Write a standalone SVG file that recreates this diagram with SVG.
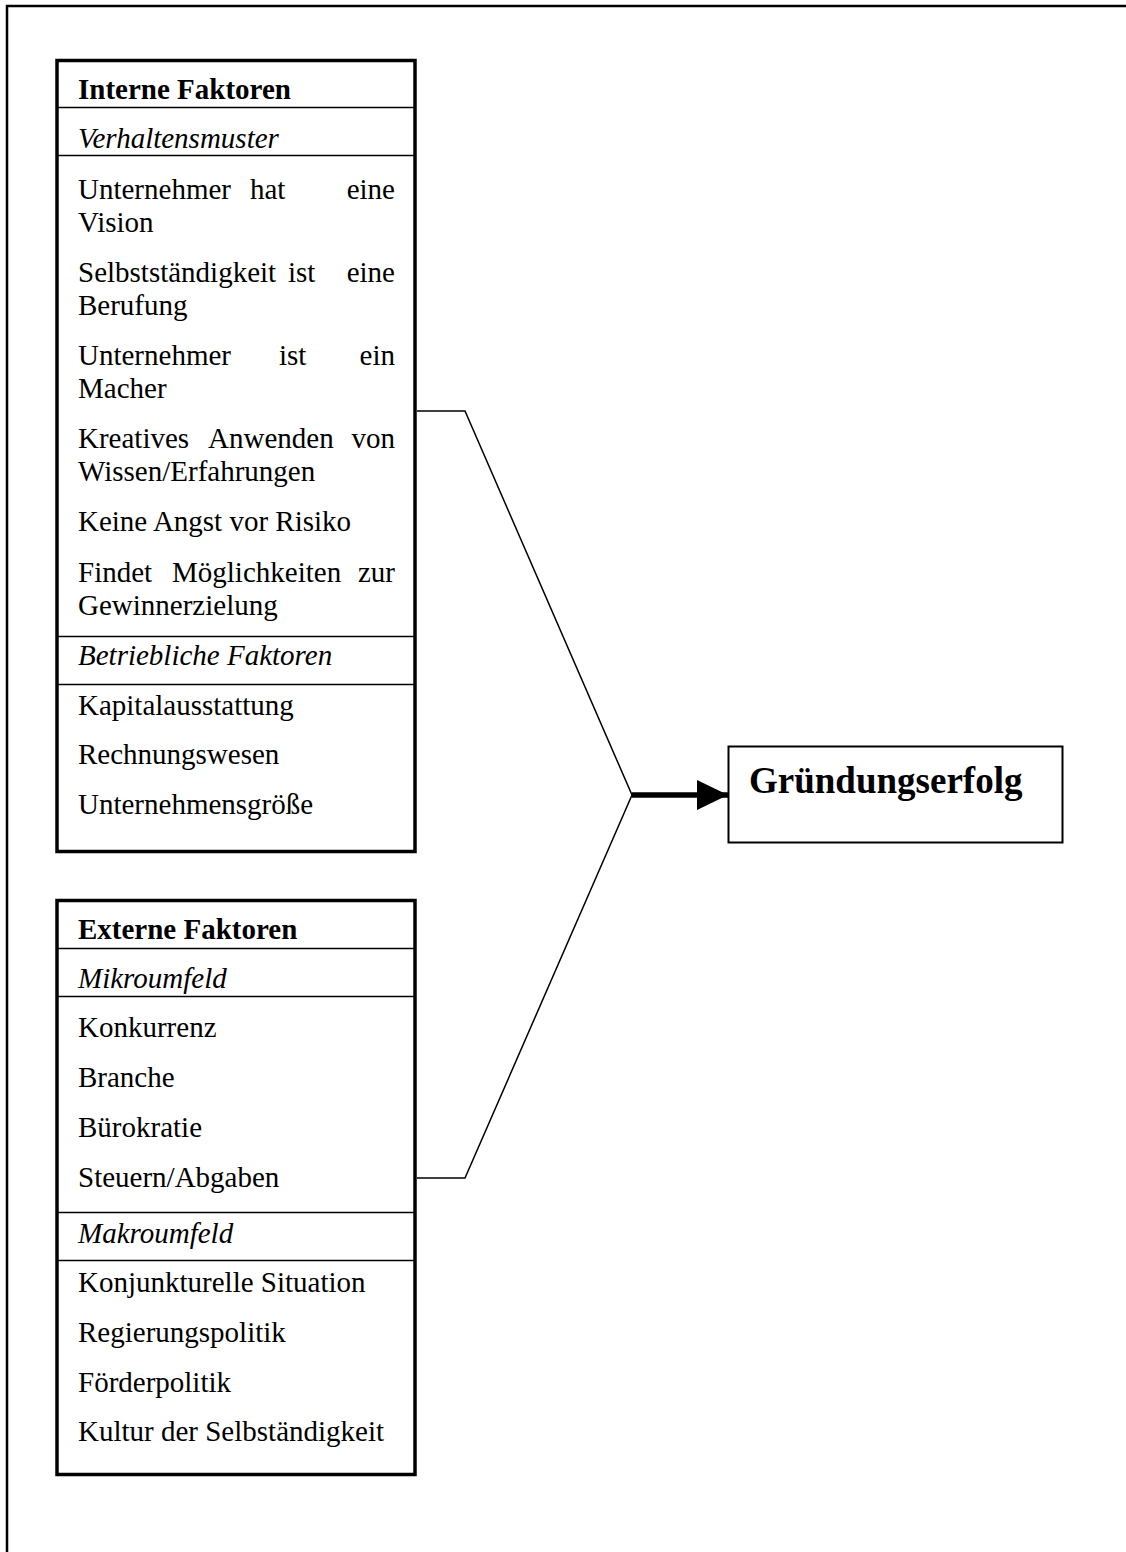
<svg xmlns="http://www.w3.org/2000/svg" width="1126" height="1552" viewBox="0 0 1126 1552">
<style>
text{font-family:"Liberation Serif","Times New Roman",serif;font-size:29px;fill:#000}
.b{font-weight:bold}
.i{font-style:italic}
.box{fill:#fff;stroke:#000;stroke-width:3.5}
.sep{stroke:#000;stroke-width:1.5}
.con{fill:none;stroke:#000;stroke-width:1.5}
</style>
<defs>
<marker id="ah" markerUnits="userSpaceOnUse" markerWidth="32" markerHeight="32" refX="31" refY="15" orient="auto">
<path d="M0,0 L31,15 L0,30 Z" fill="#000"/>
</marker>
</defs>
<rect width="1126" height="1552" fill="#fff"/>
<path d="M7,1552 V6 H1126" fill="none" stroke="#000" stroke-width="2.5"/>
<g id="interne">
<rect class="box" x="57" y="60.5" width="358" height="791"/>
<line class="sep" x1="57" y1="107.5" x2="415" y2="107.5"/>
<line class="sep" x1="57" y1="155.5" x2="415" y2="155.5"/>
<line class="sep" x1="57" y1="636.5" x2="415" y2="636.5"/>
<line class="sep" x1="57" y1="684.5" x2="415" y2="684.5"/>
<text class="b" x="78" y="99">Interne Faktoren</text>
<text class="i" x="78" y="148">Verhaltensmuster</text>
<text y="199"><tspan x="78">Unternehmer</tspan><tspan x="250">hat</tspan><tspan x="395" text-anchor="end">eine</tspan></text>
<text x="78" y="232">Vision</text>
<text y="282"><tspan x="78">Selbstständigkeit</tspan><tspan x="288">ist</tspan><tspan x="395" text-anchor="end">eine</tspan></text>
<text x="78" y="315">Berufung</text>
<text y="365"><tspan x="78">Unternehmer</tspan><tspan x="279">ist</tspan><tspan x="395" text-anchor="end">ein</tspan></text>
<text x="78" y="398">Macher</text>
<text y="448"><tspan x="78">Kreatives</tspan><tspan x="208">Anwenden</tspan><tspan x="395" text-anchor="end">von</tspan></text>
<text x="78" y="481">Wissen/Erfahrungen</text>
<text x="78" y="531">Keine Angst vor Risiko</text>
<text y="582"><tspan x="78">Findet</tspan><tspan x="172">Möglichkeiten</tspan><tspan x="395" text-anchor="end">zur</tspan></text>
<text x="78" y="615">Gewinnerzielung</text>
<text class="i" x="78" y="665">Betriebliche Faktoren</text>
<text x="78" y="715">Kapitalausstattung</text>
<text x="78" y="764">Rechnungswesen</text>
<text x="78" y="814">Unternehmensgröße</text>
</g>
<g id="externe">
<rect class="box" x="57" y="900.5" width="358" height="574"/>
<line class="sep" x1="57" y1="948.5" x2="415" y2="948.5"/>
<line class="sep" x1="57" y1="996.5" x2="415" y2="996.5"/>
<line class="sep" x1="57" y1="1212.5" x2="415" y2="1212.5"/>
<line class="sep" x1="57" y1="1260.5" x2="415" y2="1260.5"/>
<text class="b" x="78" y="939">Externe Faktoren</text>
<text class="i" x="78" y="988">Mikroumfeld</text>
<text x="78" y="1037">Konkurrenz</text>
<text x="78" y="1087">Branche</text>
<text x="78" y="1137">Bürokratie</text>
<text x="78" y="1187">Steuern/Abgaben</text>
<text class="i" x="78" y="1243">Makroumfeld</text>
<text x="78" y="1292">Konjunkturelle Situation</text>
<text x="78" y="1342">Regierungspolitik</text>
<text x="78" y="1392">Förderpolitik</text>
<text x="78" y="1441">Kultur der Selbständigkeit</text>
</g>
<g id="erfolg">
<rect x="728.5" y="746.5" width="334" height="96" fill="#fff" stroke="#000" stroke-width="2"/>
<text class="b" x="749" y="793" style="font-size:37px">Gründungserfolg</text>
</g>
<g id="connectors">
<polyline class="con" points="417,411 465,411 632,795 465,1178 417,1178"/>
<line x1="632" y1="795" x2="728" y2="795" stroke="#000" stroke-width="5.5" marker-end="url(#ah)"/>
</g>
</svg>
